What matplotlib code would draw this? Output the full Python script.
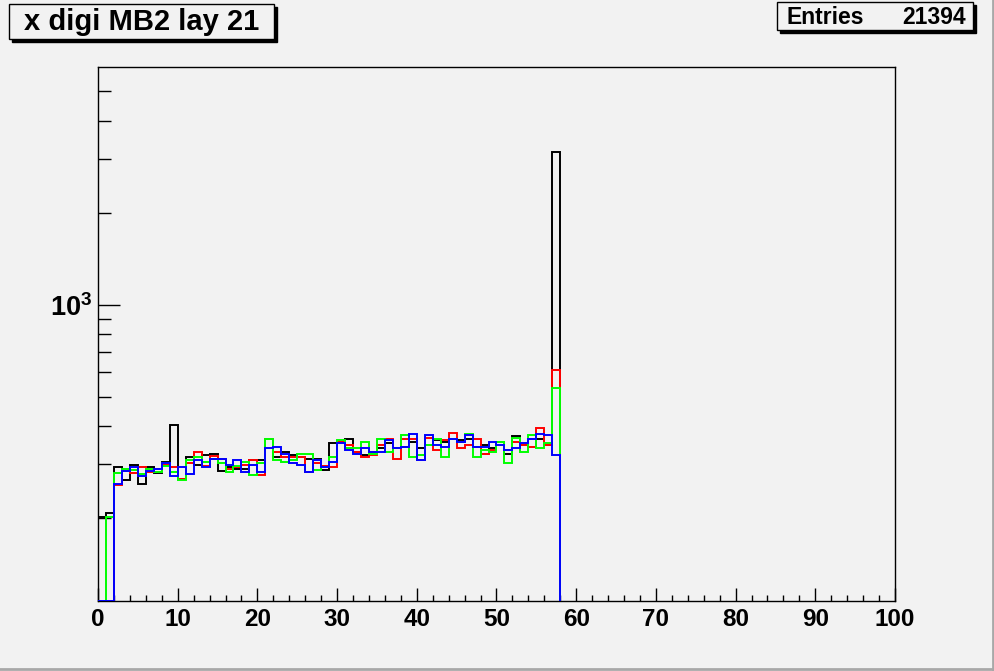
"""
Odtworzenie histogramu ROOT: x digi MB2 lay 21 (skala log na osi y).
"""

import matplotlib.pyplot as plt
import numpy as np
from matplotlib.lines import Line2D
from matplotlib.patches import Rectangle
from matplotlib.ticker import FixedLocator, FuncFormatter, NullFormatter

plt.rcParams["font.family"] = ["Liberation Sans", "DejaVu Sans"]
plt.rcParams["font.weight"] = "bold"
plt.rcParams["mathtext.fontset"] = "custom"
plt.rcParams["mathtext.rm"] = "Liberation Sans:bold"
plt.rcParams["mathtext.bf"] = "Liberation Sans:bold"

TITLE = "x digi MB2 lay 21"
ENTRIES = 21394
X_RANGE = (0, 100)
Y_RANGE = (107, 6000)
BIN_EDGES = np.arange(0, 59)  # 58 bins of width 1, reszta pusta

X_MAJOR = list(range(0, 101, 10))
X_MINOR = list(range(0, 101, 2))
Y_MAJOR = [1000]
Y_MINOR = [200, 300, 400, 500, 600, 700, 800, 900, 2000, 3000, 4000, 5000]

black = [201, 208, 295, 267, 299, 259, 293, 280, 306, 402,
         269, 318, 299, 321, 325, 286, 295, 290, 290, 311,
         311, 364, 318, 330, 321, 316, 313, 313, 288, 351,
         354, 362, 330, 321, 328, 338, 351, 340, 343, 354,
         338, 348, 359, 354, 364, 359, 362, 343, 348, 338,
         354, 323, 370, 348, 364, 362, 348, 3170]
red = [0, 0, 257, 286, 280, 293, 282, 284, 299, 293,
       269, 302, 330, 297, 320, 313, 290, 293, 299, 309,
       276, 362, 328, 316, 318, 318, 282, 304, 297, 295,
       356, 348, 330, 318, 321, 346, 364, 313, 364, 364,
       309, 367, 333, 359, 381, 340, 348, 362, 325, 333,
       354, 333, 354, 346, 343, 393, 348, 611]
green = [0, 201, 280, 289, 288, 278, 290, 282, 297, 282,
         267, 309, 316, 306, 313, 302, 284, 297, 306, 276,
         304, 362, 309, 306, 309, 323, 323, 288, 295, 318,
         359, 338, 338, 354, 325, 362, 328, 338, 373, 316,
         321, 346, 362, 318, 362, 356, 378, 316, 335, 330,
         356, 302, 367, 330, 373, 338, 351, 533]
blue = [0, 0, 259, 286, 293, 274, 286, 290, 302, 274,
        295, 278, 311, 295, 313, 313, 299, 309, 282, 299,
        282, 338, 343, 325, 302, 299, 284, 311, 295, 306,
        351, 335, 323, 338, 328, 330, 359, 340, 343, 378,
        311, 375, 346, 343, 362, 356, 375, 343, 343, 354,
        346, 335, 338, 351, 362, 378, 375, 321]

BG = "#f2f2f2"
W, H = 995, 671


def px_rect(fig, x0, y0, x1, y1, **kw):
    # prostokat w pikselach liczonych od lewego gornego rogu
    r = Rectangle((x0 / W, 1 - y1 / H), (x1 - x0) / W, (y1 - y0) / H,
                  transform=fig.transFigure, **kw)
    fig.add_artist(r)
    return r


def main():
    fig = plt.figure(figsize=(9.95, 6.71), dpi=100, facecolor=BG)
    ax = fig.add_axes([98 / W, 1 - 601 / H, (895 - 98) / W, (601 - 67) / H])
    ax.set_facecolor(BG)

    series = [(black, "black"), (red, "#ff0000"), (green, "#00ff00"), (blue, "#0000ff")]
    for z, (vals, col) in enumerate(series):
        v = np.maximum(np.asarray(vals, dtype=float), Y_RANGE[0])
        ax.stairs(v, BIN_EDGES, baseline=Y_RANGE[0], color=col, lw=1.4, zorder=2 + z)

    ax.set_yscale("log")
    ax.set_xlim(*X_RANGE)
    ax.set_ylim(*Y_RANGE)

    ax.xaxis.set_major_locator(FixedLocator(X_MAJOR))
    ax.xaxis.set_minor_locator(FixedLocator(X_MINOR))
    ax.yaxis.set_major_locator(FixedLocator(Y_MAJOR))
    ax.yaxis.set_minor_locator(FixedLocator(Y_MINOR))
    ax.yaxis.set_major_formatter(FuncFormatter(lambda v, p: r"$10^{3}$"))
    ax.yaxis.set_minor_formatter(NullFormatter())

    ax.tick_params(axis="x", which="major", direction="in", length=9.5, width=1,
                   labelsize=17.5, pad=5, top=False)
    ax.tick_params(axis="x", which="minor", direction="in", length=4.5, width=1, top=False)
    ax.tick_params(axis="y", which="major", direction="in", length=16, width=1,
                   labelsize=19.5, pad=4, right=False)
    ax.tick_params(axis="y", which="minor", direction="in", length=9, width=1, right=False)
    for lab in ax.get_xticklabels() + ax.get_yticklabels():
        lab.set_fontweight("bold")
    for s in ax.spines.values():
        s.set_linewidth(1)
        s.set_color("black")

    # ramka tytulu z cieniem
    px_rect(fig, 12, 7, 277, 42, facecolor="black", edgecolor="black")
    px_rect(fig, 9, 4, 274, 39, facecolor=BG, edgecolor="black", lw=1)
    fig.text(142 / W, 1 - 22 / H, TITLE, ha="center", va="center",
             fontsize=21, fontweight="bold")

    # ramka statystyk
    px_rect(fig, 780, 5, 976, 33, facecolor="black", edgecolor="black")
    px_rect(fig, 777, 2, 973, 30, facecolor=BG, edgecolor="black", lw=1)
    fig.text(787 / W, 1 - 17 / H, "Entries", ha="left", va="center",
             fontsize=16.5, fontweight="bold")
    fig.text(966 / W, 1 - 17 / H, f"{ENTRIES}", ha="right", va="center",
             fontsize=16.5, fontweight="bold")

    # szara krawedz kanwy (prawa i dolna)
    fig.add_artist(Line2D([993 / W, 993 / W], [0, 1], transform=fig.transFigure,
                          color="#a8a8a8", lw=2))
    fig.add_artist(Line2D([0, 1], [2 / H, 2 / H], transform=fig.transFigure,
                          color="#a8a8a8", lw=2))

    fig.savefig("out.png", dpi=100, facecolor=BG)


if __name__ == "__main__":
    main()
